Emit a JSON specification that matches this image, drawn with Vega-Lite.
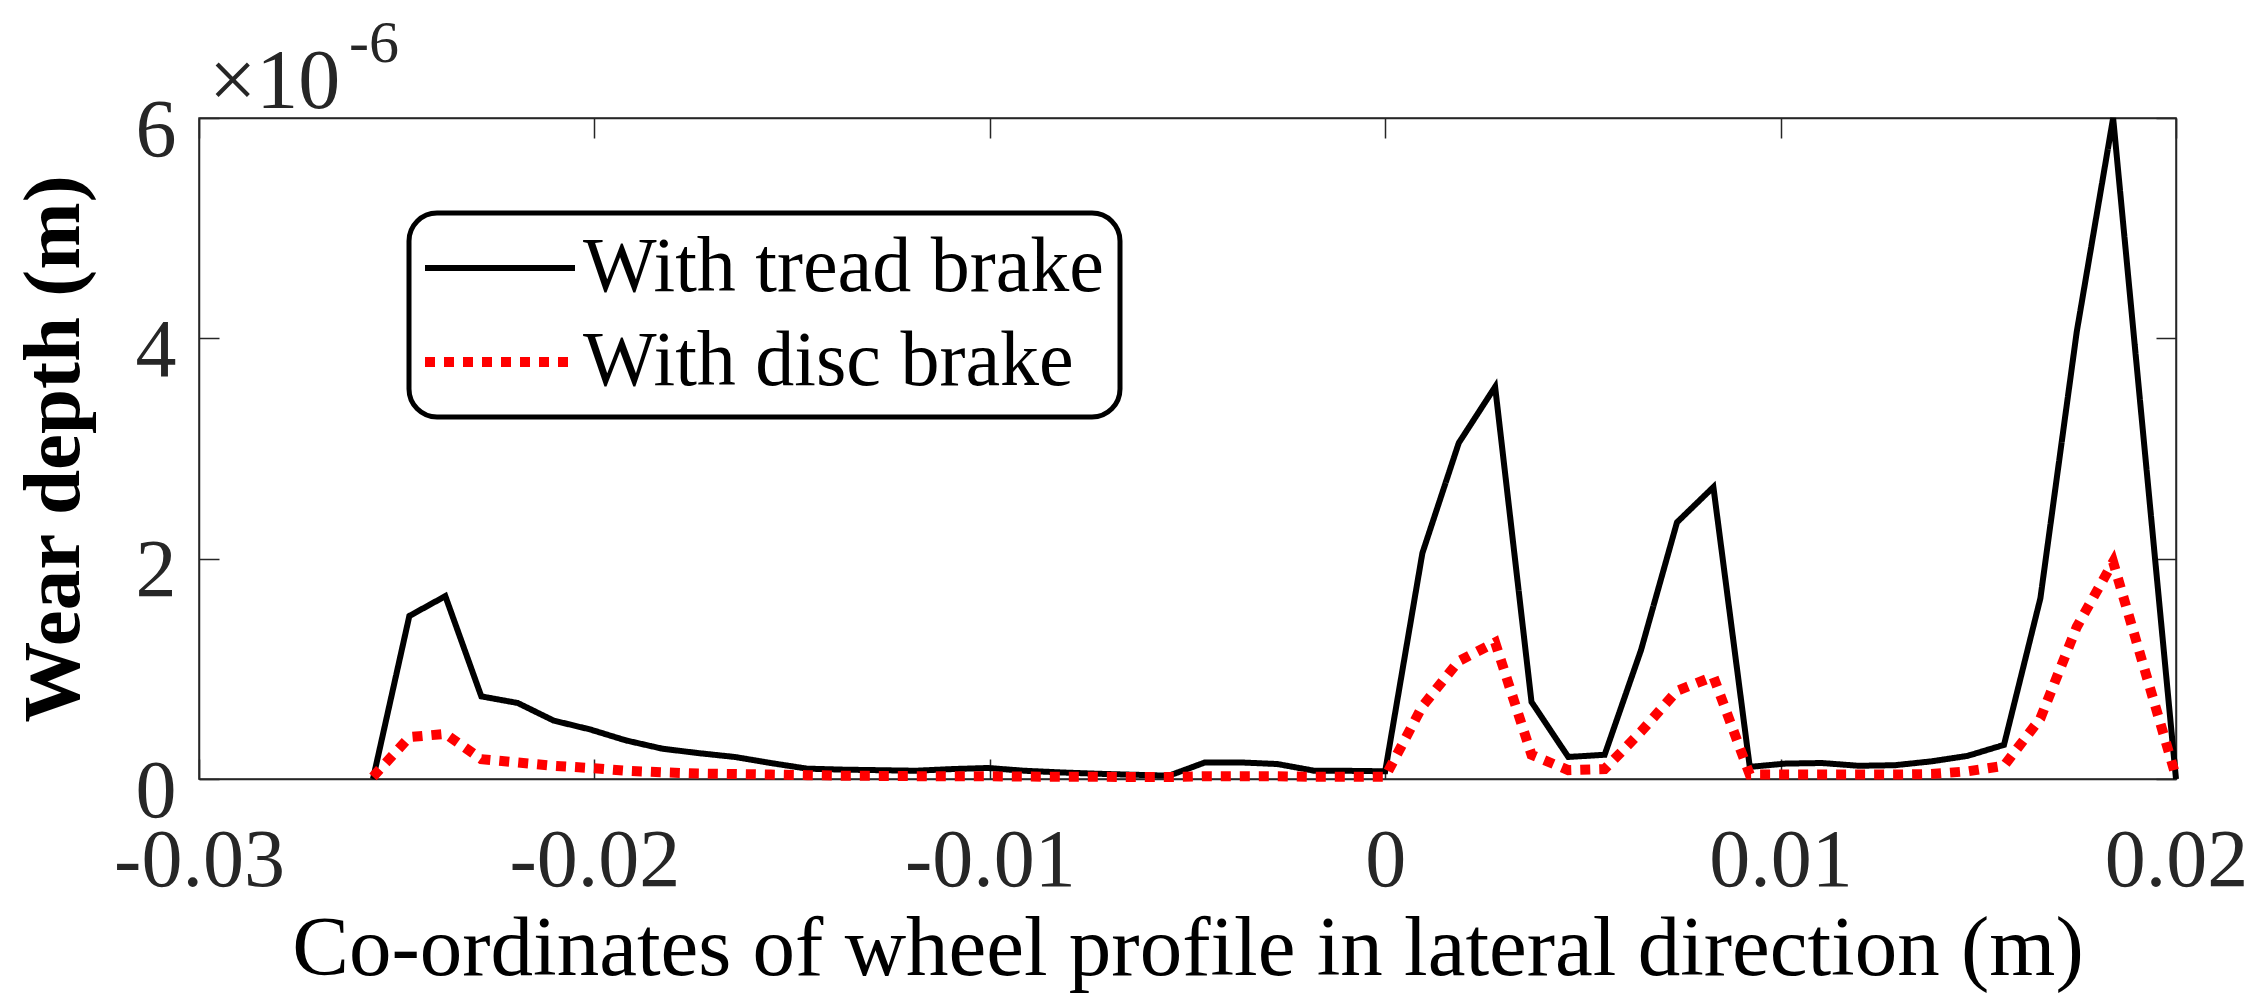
{
  "$schema": "https://vega.github.io/schema/vega-lite/v6.json",
  "width": 1977,
  "height": 661,
  "autosize": {"type": "none"},
  "padding": {"left": 199, "top": 118, "right": 92, "bottom": 225},
  "background": "white",
  "datasets": {
    "wear": [
      {"series": "With tread brake", "x": -0.0256, "wear": 0},
      {"series": "With tread brake", "x": -0.02468, "wear": 1.48},
      {"series": "With tread brake", "x": -0.02377, "wear": 1.66},
      {"series": "With tread brake", "x": -0.02286, "wear": 0.75},
      {"series": "With tread brake", "x": -0.02194, "wear": 0.69},
      {"series": "With tread brake", "x": -0.02103, "wear": 0.53},
      {"series": "With tread brake", "x": -0.02011, "wear": 0.45},
      {"series": "With tread brake", "x": -0.0192, "wear": 0.35},
      {"series": "With tread brake", "x": -0.01828, "wear": 0.275},
      {"series": "With tread brake", "x": -0.01737, "wear": 0.235},
      {"series": "With tread brake", "x": -0.01645, "wear": 0.2},
      {"series": "With tread brake", "x": -0.01554, "wear": 0.145},
      {"series": "With tread brake", "x": -0.01462, "wear": 0.094},
      {"series": "With tread brake", "x": -0.01371, "wear": 0.085},
      {"series": "With tread brake", "x": -0.01279, "wear": 0.08},
      {"series": "With tread brake", "x": -0.01188, "wear": 0.075},
      {"series": "With tread brake", "x": -0.01096, "wear": 0.09},
      {"series": "With tread brake", "x": -0.01005, "wear": 0.1},
      {"series": "With tread brake", "x": -0.00913, "wear": 0.075},
      {"series": "With tread brake", "x": -0.00822, "wear": 0.06},
      {"series": "With tread brake", "x": -0.0073, "wear": 0.048},
      {"series": "With tread brake", "x": -0.00639, "wear": 0.039},
      {"series": "With tread brake", "x": -0.00547, "wear": 0.03},
      {"series": "With tread brake", "x": -0.00456, "wear": 0.15},
      {"series": "With tread brake", "x": -0.00364, "wear": 0.15},
      {"series": "With tread brake", "x": -0.00273, "wear": 0.136},
      {"series": "With tread brake", "x": -0.00181, "wear": 0.076},
      {"series": "With tread brake", "x": -0.0009, "wear": 0.074},
      {"series": "With tread brake", "x": 0, "wear": 0.07},
      {"series": "With tread brake", "x": 0.00094, "wear": 2.05},
      {"series": "With tread brake", "x": 0.00186, "wear": 3.05},
      {"series": "With tread brake", "x": 0.00278, "wear": 3.56},
      {"series": "With tread brake", "x": 0.0037, "wear": 0.7},
      {"series": "With tread brake", "x": 0.00463, "wear": 0.2},
      {"series": "With tread brake", "x": 0.00555, "wear": 0.22},
      {"series": "With tread brake", "x": 0.00647, "wear": 1.17},
      {"series": "With tread brake", "x": 0.00738, "wear": 2.33},
      {"series": "With tread brake", "x": 0.0083, "wear": 2.65},
      {"series": "With tread brake", "x": 0.00922, "wear": 0.11},
      {"series": "With tread brake", "x": 0.01013, "wear": 0.14},
      {"series": "With tread brake", "x": 0.01105, "wear": 0.145},
      {"series": "With tread brake", "x": 0.01197, "wear": 0.12},
      {"series": "With tread brake", "x": 0.01289, "wear": 0.125},
      {"series": "With tread brake", "x": 0.01381, "wear": 0.16},
      {"series": "With tread brake", "x": 0.01473, "wear": 0.21},
      {"series": "With tread brake", "x": 0.01565, "wear": 0.31},
      {"series": "With tread brake", "x": 0.01657, "wear": 1.64},
      {"series": "With tread brake", "x": 0.01749, "wear": 4.06},
      {"series": "With tread brake", "x": 0.01841, "wear": 6.0},
      {"series": "With tread brake", "x": 0.02, "wear": 0},
      {"series": "With disc brake", "x": -0.0256, "wear": 0.02},
      {"series": "With disc brake", "x": -0.02468, "wear": 0.38},
      {"series": "With disc brake", "x": -0.02377, "wear": 0.41},
      {"series": "With disc brake", "x": -0.02286, "wear": 0.18},
      {"series": "With disc brake", "x": -0.02194, "wear": 0.15},
      {"series": "With disc brake", "x": -0.02103, "wear": 0.12},
      {"series": "With disc brake", "x": -0.02011, "wear": 0.1},
      {"series": "With disc brake", "x": -0.0192, "wear": 0.075},
      {"series": "With disc brake", "x": -0.01828, "wear": 0.06},
      {"series": "With disc brake", "x": -0.01737, "wear": 0.05},
      {"series": "With disc brake", "x": -0.01645, "wear": 0.045},
      {"series": "With disc brake", "x": -0.01554, "wear": 0.04},
      {"series": "With disc brake", "x": -0.01462, "wear": 0.035},
      {"series": "With disc brake", "x": -0.01371, "wear": 0.03},
      {"series": "With disc brake", "x": -0.01279, "wear": 0.028},
      {"series": "With disc brake", "x": -0.01188, "wear": 0.026},
      {"series": "With disc brake", "x": -0.01096, "wear": 0.025},
      {"series": "With disc brake", "x": -0.01005, "wear": 0.025},
      {"series": "With disc brake", "x": -0.00913, "wear": 0.022},
      {"series": "With disc brake", "x": -0.00822, "wear": 0.02},
      {"series": "With disc brake", "x": -0.0073, "wear": 0.02},
      {"series": "With disc brake", "x": -0.00639, "wear": 0.018},
      {"series": "With disc brake", "x": -0.00547, "wear": 0.018},
      {"series": "With disc brake", "x": -0.00456, "wear": 0.025},
      {"series": "With disc brake", "x": -0.00364, "wear": 0.025},
      {"series": "With disc brake", "x": -0.00273, "wear": 0.025},
      {"series": "With disc brake", "x": -0.00181, "wear": 0.02},
      {"series": "With disc brake", "x": -0.0009, "wear": 0.02},
      {"series": "With disc brake", "x": 0, "wear": 0.02},
      {"series": "With disc brake", "x": 0.00094, "wear": 0.66},
      {"series": "With disc brake", "x": 0.00186, "wear": 1.07},
      {"series": "With disc brake", "x": 0.00278, "wear": 1.24},
      {"series": "With disc brake", "x": 0.0037, "wear": 0.22},
      {"series": "With disc brake", "x": 0.00463, "wear": 0.08},
      {"series": "With disc brake", "x": 0.00555, "wear": 0.09},
      {"series": "With disc brake", "x": 0.00647, "wear": 0.43},
      {"series": "With disc brake", "x": 0.00738, "wear": 0.8},
      {"series": "With disc brake", "x": 0.0083, "wear": 0.93},
      {"series": "With disc brake", "x": 0.00922, "wear": 0.04},
      {"series": "With disc brake", "x": 0.01013, "wear": 0.04},
      {"series": "With disc brake", "x": 0.01105, "wear": 0.04},
      {"series": "With disc brake", "x": 0.01197, "wear": 0.04},
      {"series": "With disc brake", "x": 0.01289, "wear": 0.04},
      {"series": "With disc brake", "x": 0.01381, "wear": 0.045},
      {"series": "With disc brake", "x": 0.01473, "wear": 0.07},
      {"series": "With disc brake", "x": 0.01565, "wear": 0.12},
      {"series": "With disc brake", "x": 0.01657, "wear": 0.55},
      {"series": "With disc brake", "x": 0.01749, "wear": 1.38},
      {"series": "With disc brake", "x": 0.01841, "wear": 1.97},
      {"series": "With disc brake", "x": 0.02, "wear": 0.02}
    ],
    "multiplier": [
      {"mult": "×10", "exp": "-6"}
    ]
  },
  "layer": [
    {
      "data": {"name": "wear"},
      "mark": {"type": "line", "strokeCap": "butt", "strokeJoin": "miter"},
      "encoding": {
        "x": {
          "field": "x",
          "type": "quantitative",
          "scale": {"domain": [-0.03, 0.02], "nice": false, "zero": false},
          "axis": {
            "orient": "bottom",
            "values": [-0.03, -0.02, -0.01, 0, 0.01, 0.02],
            "labelExpr": "replace(format(datum.value, '~g'), '−', '-')",
            "labelPadding": 61,
            "labelFlush": false,
            "labelOverlap": false,
            "title": "Co-ordinates of wheel profile in lateral direction (m)",
            "titleFontSize": 85,
            "titleFontWeight": "normal",
            "titlePadding": 6
          }
        },
        "y": {
          "field": "wear",
          "type": "quantitative",
          "scale": {"domain": [0, 6], "nice": false},
          "axis": {
            "orient": "left",
            "values": [0, 2, 4, 6],
            "labelPadding": 43,
            "labelOffset": 12,
            "labelBaseline": "middle",
            "title": "Wear depth (m)",
            "titleFontSize": 81,
            "titleFontWeight": "bold",
            "titlePadding": 40
          }
        },
        "color": {
          "field": "series",
          "type": "nominal",
          "scale": {"domain": ["With tread brake", "With disc brake"], "range": ["#000000", "#ff0000"]},
          "legend": {
            "title": null,
            "orient": "none",
            "legendX": 210,
            "legendY": 95,
            "symbolType": "M-3,0H3",
            "symbolSize": 2500,
            "symbolOffset": 36,
            "labelOffset": 44,
            "labelFontSize": 78,
            "labelLimit": 0,
            "labelColor": "#000000",
            "padding": 16,
            "rowPadding": 16,
            "strokeColor": "#000000",
            "fillColor": "#ffffff",
            "cornerRadius": 28
          }
        },
        "strokeDash": {
          "field": "series",
          "type": "nominal",
          "scale": {"domain": ["With tread brake", "With disc brake"], "range": [[1, 0], [10, 9]]},
          "legend": {
            "title": null,
            "orient": "none",
            "legendX": 210,
            "legendY": 95,
            "symbolType": "M-3,0H3",
            "symbolSize": 2500,
            "symbolOffset": 36,
            "labelOffset": 44,
            "labelFontSize": 78,
            "labelLimit": 0,
            "labelColor": "#000000",
            "padding": 16,
            "rowPadding": 16,
            "strokeColor": "#000000",
            "fillColor": "#ffffff",
            "cornerRadius": 28
          }
        },
        "strokeWidth": {
          "field": "series",
          "type": "nominal",
          "scale": {"domain": ["With tread brake", "With disc brake"], "range": [6, 10]},
          "legend": {
            "title": null,
            "orient": "none",
            "legendX": 210,
            "legendY": 95,
            "symbolType": "M-3,0H3",
            "symbolSize": 2500,
            "symbolOffset": 36,
            "labelOffset": 44,
            "labelFontSize": 78,
            "labelLimit": 0,
            "labelColor": "#000000",
            "padding": 16,
            "rowPadding": 16,
            "strokeColor": "#000000",
            "fillColor": "#ffffff",
            "cornerRadius": 28
          }
        }
      }
    },
    {
      "data": {"name": "wear"},
      "mark": {"type": "line", "strokeOpacity": 0},
      "encoding": {
        "x": {
          "field": "x",
          "type": "quantitative",
          "scale": {"domain": [-0.03, 0.02], "nice": false, "zero": false},
          "axis": {"orient": "top", "values": [-0.03, -0.02, -0.01, 0, 0.01, 0.02], "labels": false, "title": null}
        },
        "y": {
          "field": "wear",
          "type": "quantitative",
          "scale": {"domain": [0, 6], "nice": false},
          "axis": {"orient": "right", "values": [0, 2, 4, 6], "labels": false, "title": null}
        },
        "detail": {"field": "series"}
      }
    },
    {
      "data": {"name": "multiplier"},
      "mark": {"type": "text", "align": "left", "baseline": "alphabetic", "dx": 10, "dy": -10, "fontSize": 84, "color": "#262626"},
      "encoding": {
        "x": {"datum": -0.03, "type": "quantitative", "axis": null},
        "y": {"datum": 6, "type": "quantitative", "axis": null},
        "text": {"field": "mult"}
      }
    },
    {
      "data": {"name": "multiplier"},
      "mark": {"type": "text", "align": "left", "baseline": "alphabetic", "dx": 150, "dy": -56, "fontSize": 60, "color": "#262626"},
      "encoding": {
        "x": {"datum": -0.03, "type": "quantitative", "axis": null},
        "y": {"datum": 6, "type": "quantitative", "axis": null},
        "text": {"field": "exp"}
      }
    }
  ],
  "resolve": {"axis": {"x": "independent", "y": "independent"}},
  "config": {
    "font": "Liberation Serif",
    "view": {"stroke": "#262626", "strokeWidth": 1.5},
    "axis": {
      "domainColor": "#262626",
      "domainWidth": 1.5,
      "tickColor": "#262626",
      "tickWidth": 1.5,
      "tickSize": -20,
      "grid": false,
      "labelFont": "Liberation Serif",
      "labelFontSize": 82,
      "labelColor": "#262626",
      "titleFont": "Liberation Serif",
      "titleColor": "#000000"
    },
    "legend": {
      "strokeWidth": 5,
      "labelFont": "Liberation Serif"
    }
  }
}
